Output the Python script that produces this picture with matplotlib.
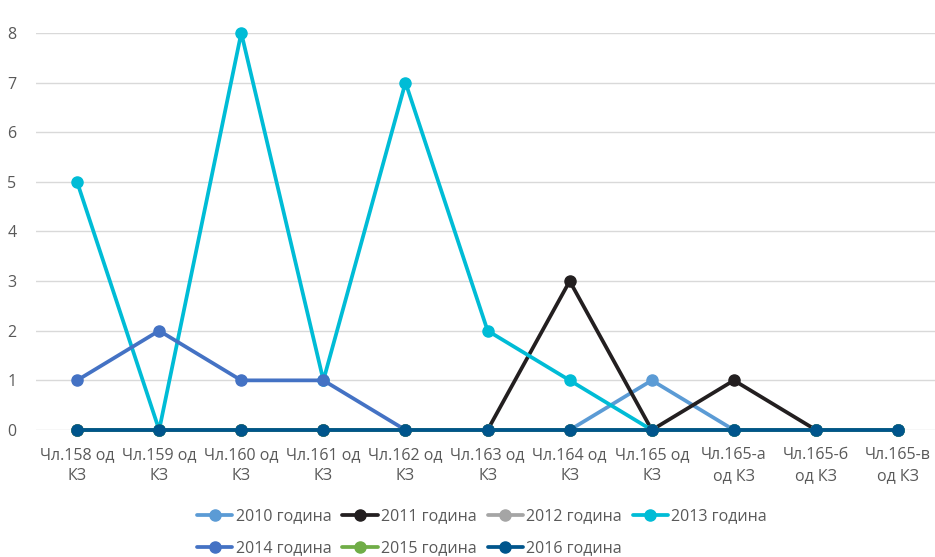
import numpy as np
import matplotlib.pyplot as plt

plt.rcParams['font.family'] = ['Open Sans', 'DejaVu Sans']

categories = ["Чл.158 од\nКЗ", "Чл.159 од\nКЗ", "Чл.160 од\nКЗ", "Чл.161 од\nКЗ",
              "Чл.162 од\nКЗ", "Чл.163 од\nКЗ", "Чл.164 од\nКЗ", "Чл.165 од\nКЗ",
              "Чл.165-а\nод КЗ", "Чл.165-б\nод КЗ", "Чл.165-в\nод КЗ"]

y2010 = [0, 0, 0, 0, 0, 0, 0, 1, 0, 0, 0]
y2011 = [0, 0, 0, 0, 0, 0, 3, 0, 1, 0, 0]
y2012 = [0, 0, 0, 0, 0, 0, 0, 0, 0, 0, 0]
y2013 = [5, 0, 8, 1, 7, 2, 1, 0, 0, 0, 0]
y2014 = [1, 2, 1, 1, 0, 0, 0, 0, 0, 0, 0]
y2015 = [0, 0, 0, 0, 0, 0, 0, 0, 0, 0, 0]
y2016 = [0, 0, 0, 0, 0, 0, 0, 0, 0, 0, 0]

series = [("2010 година", y2010, "#5B9BD5"),
          ("2011 година", y2011, "#231F20"),
          ("2012 година", y2012, "#A5A5A5"),
          ("2013 година", y2013, "#00BCD6"),
          ("2014 година", y2014, "#4472C4"),
          ("2015 година", y2015, "#70AD47"),
          ("2016 година", y2016, "#00558C")]

txt = "#595959"
fs = 11.5

fig = plt.figure(figsize=(9.35, 5.57), dpi=100)
ax = fig.add_axes([0.0385, 0.228, 0.966, 0.713])

x = np.arange(len(categories))
handles = []
for name, vals, col in series:
    h, = ax.plot(x, vals, color=col, lw=2.7, marker='o', markersize=8,
                 label=name, clip_on=False, solid_capstyle='round')
    handles.append(h)

ax.set_xlim(-0.5, len(categories) - 0.5)
ax.set_ylim(0, 8)
ax.set_yticks(range(0, 9))
ax.set_xticks(x)
ax.set_xticklabels(categories, fontsize=fs, color=txt, linespacing=1.45)
ax.tick_params(axis='y', labelsize=fs, labelcolor=txt, length=0, pad=14)
ax.tick_params(axis='x', length=0, pad=12)
ax.grid(axis='y', color='#D9D9D9', lw=1)
ax.set_axisbelow(True)
for s in ax.spines.values():
    s.set_visible(False)

# row-wise order for a 4-column legend
order = [0, 4, 1, 5, 2, 6, 3]
fig.legend([handles[i] for i in order], [handles[i].get_label() for i in order],
           loc='lower center', bbox_to_anchor=(0.5155, -0.015), ncol=4, frameon=False,
           fontsize=fs, labelcolor=txt, handlelength=2.2, handletextpad=0.2,
           columnspacing=0.7, labelspacing=1.0, borderpad=0.05)

fig.savefig("out.png", dpi=100)
